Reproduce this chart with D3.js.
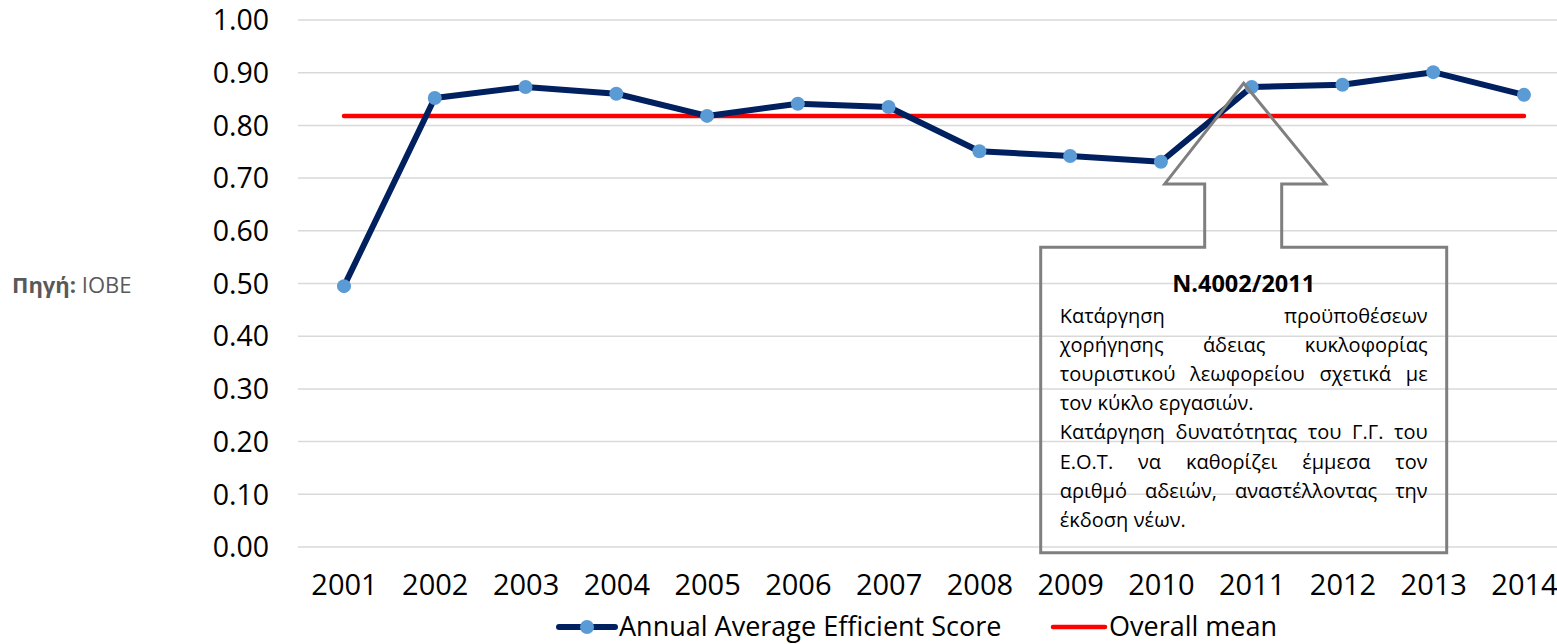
<!DOCTYPE html>
<html>
<head>
<meta charset="utf-8">
<script src="https://cdn.jsdelivr.net/npm/d3@7/dist/d3.min.js"></script>
<style>
  html, body { margin: 0; padding: 0; background: #fff; }
  svg { display: block; font-family: "Open Sans", "Noto Sans", sans-serif; }
</style>
</head>
<body>
<svg id="chart" width="1557" height="644"></svg>
<script>
// ─── data ───────────────────────────────────────────
const years = ['2001','2002','2003','2004','2005','2006','2007','2008','2009','2010','2011','2012','2013','2014'];
const scores = [0.495, 0.852, 0.873, 0.860, 0.818, 0.841, 0.835, 0.751, 0.742, 0.731, 0.873, 0.877, 0.901, 0.858];
const overallMean = years.map(() => 0.818);
const yTicks = [0, 0.1, 0.2, 0.3, 0.4, 0.5, 0.6, 0.7, 0.8, 0.9, 1.0];
const seriesNames = ['Annual Average Efficient Score', 'Overall mean'];

const calloutTitle = 'N.4002/2011';
// [text, justified?]
const calloutLines = [
  ['Κατάργηση προϋποθέσεων', true],
  ['χορήγησης άδειας κυκλοφορίας', true],
  ['τουριστικού λεωφορείου σχετικά με', true],
  ['τον κύκλο εργασιών.', false],
  ['Κατάργηση δυνατότητας του Γ.Γ. του', true],
  ['Ε.Ο.Τ. να καθορίζει έμμεσα τον', true],
  ['αριθμό αδειών, αναστέλλοντας την', true],
  ['έκδοση νέων.', false]
];

(function() {
  const svg = d3.select('#chart');
  const NAVY = '#002060', DOT = '#5B9BD5', RED = '#FF0000', GRID = '#D9D9D9', GREY = '#7F7F7F';

  const x = d3.scalePoint().domain(years).range([344, 1524]);
  const y = d3.scaleLinear().domain([0, 1]).range([547, 20]);

  // gridlines
  svg.append('g').selectAll('line')
    .data(yTicks).enter().append('line')
    .attr('x1', 298).attr('x2', 1557)
    .attr('y1', d => y(d)).attr('y2', d => y(d))
    .attr('stroke', GRID).attr('stroke-width', 1.5);

  // y axis labels
  const yAxis = svg.append('g').attr('transform', 'translate(269,0)')
    .call(d3.axisLeft(y).tickValues(yTicks).tickFormat(d3.format('.2f')).tickSize(0).tickPadding(0));
  yAxis.select('.domain').remove();
  yAxis.selectAll('text').attr('font-size', 28.5).attr('fill', '#000')
    .attr('font-family', '"Open Sans", sans-serif').attr('dy', '0.34em');

  // x axis labels
  const xAxis = svg.append('g').attr('transform', 'translate(0,585)')
    .call(d3.axisBottom(x).tickSize(0).tickPadding(0));
  xAxis.select('.domain').remove();
  xAxis.selectAll('text').attr('font-size', 29).attr('fill', '#000')
    .attr('font-family', '"Open Sans", sans-serif').attr('dy', '0.34em');

  // overall mean line
  const line = d3.line().x((d, i) => x(years[i])).y(d => y(d));
  svg.append('path').datum(overallMean)
    .attr('d', line).attr('fill', 'none')
    .attr('stroke', RED).attr('stroke-width', 4.5).attr('stroke-linecap', 'round');

  // score line + markers
  svg.append('path').datum(scores)
    .attr('d', line).attr('fill', 'none')
    .attr('stroke', NAVY).attr('stroke-width', 6).attr('stroke-linejoin', 'round');
  svg.append('g').selectAll('circle')
    .data(scores).enter().append('circle')
    .attr('cx', (d, i) => x(years[i])).attr('cy', d => y(d))
    .attr('r', 7).attr('fill', DOT);

  // ─── callout (up arrow + box) ───
  const cx = x('2011') - 8;
  const boxL = cx - 203, boxR = cx + 203;
  const boxT = y(0.569), boxB = y(-0.011);
  const shaftL = cx - 39, shaftR = cx + 38;
  const headL = cx - 79, headR = cx + 82, headY = y(0.689), tipY = y(0.880);
  const pts = [
    [boxL, boxT], [shaftL, boxT], [shaftL, headY], [headL, headY], [cx, tipY],
    [headR, headY], [shaftR, headY], [shaftR, boxT], [boxR, boxT], [boxR, boxB], [boxL, boxB]
  ];
  svg.append('path')
    .attr('d', 'M' + pts.map(p => p.join(',')).join('L') + 'Z')
    .attr('fill', 'none').attr('stroke', GREY).attr('stroke-width', 3);

  svg.append('text')
    .attr('x', (boxL + boxR) / 2).attr('y', 284).attr('dy', '0.35em')
    .attr('text-anchor', 'middle').attr('font-weight', 'bold').attr('font-size', 23.5)
    .text(calloutTitle);

  const tL = boxL + 19, tR = boxR - 19;
  calloutLines.forEach(([txt, just], i) => {
    const ly = 316 + i * 29.1;
    const words = txt.split(' ');
    const g = svg.append('g');
    const nodes = words.map(w => g.append('text')
      .attr('y', ly).attr('dy', '0.35em').attr('font-size', 20).attr('fill', '#000').text(w));
    const widths = nodes.map(n => n.node().getComputedTextLength());
    const total = d3.sum(widths);
    const space = just && words.length > 1 ? (tR - tL - total) / (words.length - 1) : 5.5;
    let cur = tL;
    nodes.forEach((n, k) => { n.attr('x', cur); cur += widths[k] + space; });
  });

  // source note
  const src = svg.append('text').attr('x', 12).attr('y', 285).attr('dy', '0.35em')
    .attr('font-size', 22).attr('fill', '#595959');
  src.append('tspan').attr('font-weight', 'bold').text('Πηγή:');
  src.append('tspan').text(' IOBE');

  // ─── legend ───
  const LY = 627;
  const lg = svg.append('g');
  lg.append('line').attr('x1', 559).attr('x2', 615).attr('y1', LY).attr('y2', LY)
    .attr('stroke', NAVY).attr('stroke-width', 6).attr('stroke-linecap', 'round');
  lg.append('circle').attr('cx', 587).attr('cy', LY).attr('r', 7).attr('fill', DOT);
  lg.append('text').attr('x', 619).attr('y', LY).attr('dy', '0.33em')
    .attr('font-size', 27).attr('fill', '#000').text(seriesNames[0]);
  lg.append('line').attr('x1', 1053).attr('x2', 1105).attr('y1', LY).attr('y2', LY)
    .attr('stroke', RED).attr('stroke-width', 4.5).attr('stroke-linecap', 'round');
  lg.append('text').attr('x', 1109).attr('y', LY).attr('dy', '0.33em')
    .attr('font-size', 27).attr('fill', '#000').text(seriesNames[1]);
})();
</script>
</body>
</html>
